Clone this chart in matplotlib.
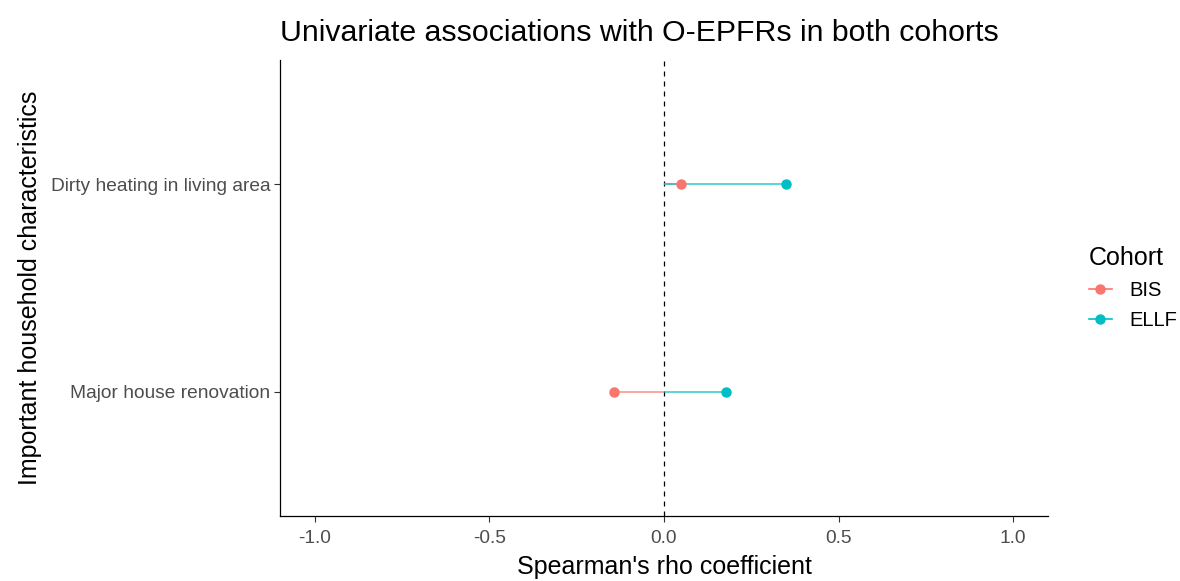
import numpy as np
import matplotlib.pyplot as plt
from matplotlib.lines import Line2D

plt.rcParams['font.family'] = ['Liberation Sans', 'DejaVu Sans']

# data
characteristics = ["Major house renovation", "Dirty heating in living area"]
cohorts = ["BIS", "ELLF"]
rho_bis = [-0.143, 0.049]
rho_ellf = [0.178, 0.350]
colors = {"BIS": "#F8766D", "ELLF": "#00BFC4"}

fig = plt.figure(figsize=(11.8, 5.81), dpi=100)
ax = fig.add_axes([0.2373, 0.1119, 0.6508, 0.7848])

ypos = np.arange(1, len(characteristics) + 1)
ax.axvline(0, color='black', linestyle=(0, (4, 4)), lw=0.9, zorder=1)

for name, vals in zip(cohorts, [rho_bis, rho_ellf]):
    c = colors[name]
    ax.hlines(ypos, 0, vals, color=c, lw=1.2, alpha=0.75, zorder=2)
    ax.plot(vals, ypos, 'o', color=c, ms=6.5, zorder=3)

ax.set_xlim(-1.1, 1.1)
ax.set_ylim(0.4, 2.6)
ax.set_xticks([-1.0, -0.5, 0.0, 0.5, 1.0])
ax.set_xticklabels(["-1.0", "-0.5", "0.0", "0.5", "1.0"])
ax.set_yticks(ypos)
ax.set_yticklabels(characteristics)
ax.tick_params(axis='both', labelsize=13.8, labelcolor='#4D4D4D', color='#333333',
               length=4, width=0.8)
ax.tick_params(axis='x', pad=6)
ax.tick_params(axis='y', pad=3)
for s in ['top', 'right']:
    ax.spines[s].set_visible(False)
for s in ['left', 'bottom']:
    ax.spines[s].set_linewidth(0.9)

ax.set_xlabel("Spearman's rho coefficient", fontsize=18, labelpad=6)
ax.set_ylabel("Important household characteristics", fontsize=18, labelpad=6)
ax.set_title("Univariate associations with O-EPFRs in both cohorts", fontsize=21.8,
             loc='left', pad=14)

handles = [Line2D([0], [0], color=colors[n], marker='o', ms=6.5, lw=1.2) for n in cohorts]
leg = fig.legend(handles, cohorts, title="Cohort", loc='center left',
                 bbox_to_anchor=(0.909, 0.504), frameon=False, fontsize=14.5,
                 title_fontsize=18, handlelength=1.15, handletextpad=0.85,
                 labelspacing=0.55, alignment='left', borderpad=0.3)

fig.savefig("out.png", dpi=100)
